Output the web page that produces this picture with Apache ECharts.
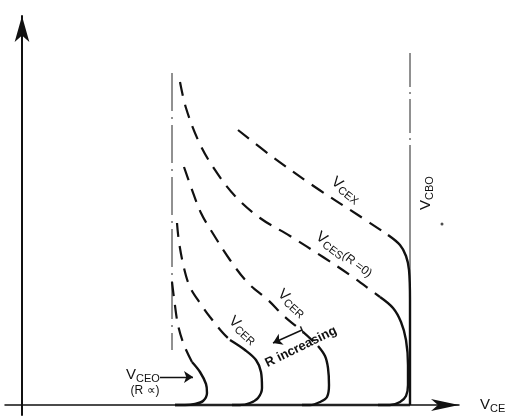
<!DOCTYPE html>
<html>
<head>
<meta charset="utf-8">
<script src="https://cdn.jsdelivr.net/npm/echarts@6/dist/echarts.min.js"></script>
<style>
  html, body { margin: 0; background: #fff; }
  #chart { width: 513px; height: 420px; }
</style>
</head>
<body>
<div id="chart"></div>
<script>
  // breakdown curves, x ~ VCE, y ~ IC (arbitrary units)
  var vcexDash = [[54, 68.75], [62, 62.5], [73.25, 54.5], [84, 47.5], [91.5, 42.5]];
  var vcexSolid = [[91.5, 42.5], [94.5, 40], [96, 37.25], [96.75, 33.75], [97, 26.25], [97, 0]];

  var vcesDash = [[39.5, 80.75], [41, 74.25], [44, 66.25], [47.75, 59.5], [53.25, 52.25], [59.5, 46.75],
    [67, 42.25], [75.25, 37], [82, 32.5], [87.5, 28.5], [89.5, 27]];
  var vcesSolid = [[89.5, 27], [92.75, 24.25], [94.75, 20.75], [96, 16.25], [96.5, 10], [96.5, 5],
    [96, 2.25], [94.5, 0.75], [92, 0], [89, 0]];

  var vcerHiDash = [[40.5, 59.5], [42.25, 54.5], [44.75, 48], [47.5, 43.25], [52, 36.25], [56.5, 30.5],
    [61.5, 26.25], [65.75, 22], [70, 18.5], [74, 14.75]];
  var vcerHiSolid = [[74, 14.75], [75.75, 12.25], [76.5, 9.25], [76.75, 5], [76.25, 2], [74.5, 0.75], [72, 0], [70, 0]];

  var vcerLoDash = [[38.75, 45.5], [39.25, 40.75], [40.5, 34.25], [42, 29.5], [44.5, 25.5], [47, 22], [50.25, 18], [52, 16.25]];
  var vcerLoSolid = [[52, 16.25], [55.75, 13.75], [58.5, 11.25], [59.75, 8.25], [60, 4.25], [59, 1.75], [57, 0.5], [54.5, 0], [52.5, 0]];

  var vceoDash = [[37.5, 30.75], [38, 26.75], [39, 20], [40.5, 15], [42.5, 10.75]];
  var vceoSolid = [[42.5, 10.75], [44.5, 8.25], [46, 5.25], [46.25, 3], [45.25, 1], [43.25, 0.25], [40.75, 0], [38.25, 0]];

  var vcboTop = [[97, 88], [97, 57.5]];
  var vcboLow = [[97, 57.5], [97, 26.25]];
  var vceoAsym = [[37.5, 83], [37.5, 13.75]];
  var baseline = [[38.25, 0], [97, 0]];

  var vceoArrow = [[34.5, 7], [42.75, 7]];
  var rArrow = [[70, 18.75], [62.75, 15.5]];
  var rTick = [[69.6, 19.65], [70.4, 17.85]];
  var stray = [[105, 45.25]];

  // text annotations (anchor in data units, rotation in degrees, ccw positive)
  var notes = [
    {t: '{v|V}{s|CBO}', at: [101, 53], rot: 90},
    {t: '{v|V}{s|CEX}', at: [81, 53.75], rot: -38},
    {t: '{v|V}{s|CES}{p|(R =0)}', at: [80.5, 37.5], rot: -37},
    {t: '{v|V}{s|CER}', at: [67.5, 25.5], rot: -42},
    {t: '{v|V}{s|CER}', at: [55.25, 18.75], rot: -42},
    {t: '{b|R increasing}', at: [69.75, 14.5], rot: 26},
    {t: '{v|V}{s|CEO}', at: [30.25, 7.5], rot: 0},
    {t: '{p|(R \u221d)}', at: [30.75, 3.5], rot: 0}
  ];

  var FONT = 'Liberation Sans';
  var rich = {
    v: {fontSize: 15, fontFamily: FONT, color: '#111', fill: '#111'},
    s: {fontSize: 11, fontFamily: FONT, color: '#111', fill: '#111', padding: [7, 0, 0, 0]},
    p: {fontSize: 12, fontFamily: FONT, color: '#111', fill: '#111'},
    b: {fontSize: 13, fontFamily: FONT, fontWeight: 'bold', color: '#111', fill: '#111'}
  };

  function curve(data, dashed, width) {
    return {
      type: 'line', data: data, smooth: 0.35, symbol: 'none', silent: true,
      lineStyle: {color: '#111', width: width, type: dashed ? [14, 9] : 'solid', cap: 'butt'}
    };
  }
  function guide(data, type, width) {
    return {
      type: 'line', data: data, symbol: 'none', silent: true,
      lineStyle: {color: '#222', width: width, type: type}
    };
  }

  var chart = echarts.init(document.getElementById('chart'));
  var option = {
    animation: false,
    backgroundColor: '#fff',
    grid: {left: 5, right: 54, top: 16, bottom: 5},
    xAxis: {
      type: 'value', min: -4.25, max: 109.25,
      axisLine: {show: true, onZero: true, symbol: ['none', 'arrow'], symbolSize: [9, 28],
        lineStyle: {color: '#111', width: 1.5}},
      axisTick: {show: false}, axisLabel: {show: false}, splitLine: {show: false},
      name: '{v|V}{s|CE}', nameLocation: 'end', nameGap: 21,
      nameTextStyle: {rich: rich}
    },
    yAxis: {
      type: 'value', min: -2.5, max: 97.25,
      axisLine: {show: true, onZero: true, symbol: ['none', 'arrow'], symbolSize: [11, 26],
        lineStyle: {color: '#111', width: 2}},
      axisTick: {show: false}, axisLabel: {show: false}, splitLine: {show: false}
    },
    series: [
      guide(vcboTop, [34, 5, 2, 5], 1),
      guide(vcboLow, 'solid', 1),
      guide(vceoAsym, [38, 6, 2, 6], 1),
      guide(baseline, 'solid', 2.6),
      curve(vcexDash, true, 2.2),
      curve(vcexSolid, false, 2.4),
      curve(vcesDash, true, 2.2),
      curve(vcesSolid, false, 2.4),
      curve(vcerHiDash, true, 2.2),
      curve(vcerHiSolid, false, 2.4),
      curve(vcerLoDash, true, 2.2),
      curve(vcerLoSolid, false, 2.4),
      curve(vceoDash, true, 2.2),
      curve(vceoSolid, false, 2.4),
      guide(rTick, 'solid', 1.4),
      {
        type: 'line', data: [], silent: true,
        markLine: {
          silent: true, animation: false,
          symbol: ['none', 'arrow'], symbolSize: 9,
          label: {show: false},
          lineStyle: {color: '#111', width: 1.4, type: 'solid'},
          data: [
            [{coord: vceoArrow[0]}, {coord: vceoArrow[1]}],
            [{coord: rArrow[0]}, {coord: rArrow[1]}]
          ]
        }
      },
      {
        type: 'scatter', data: stray, symbolSize: 3, silent: true,
        itemStyle: {color: '#222'}
      }
    ]
  };
  option && chart.setOption(option);

  // place the rotated captions at data positions
  chart.setOption({
    graphic: notes.map(function (n) {
      var p = chart.convertToPixel({gridIndex: 0}, n.at);
      return {
        type: 'text', x: p[0], y: p[1], rotation: n.rot * Math.PI / 180, silent: true, z: 10,
        style: {text: n.t, rich: rich, align: 'center', verticalAlign: 'middle', fill: '#111'}
      };
    })
  });
</script>
</body>
</html>
